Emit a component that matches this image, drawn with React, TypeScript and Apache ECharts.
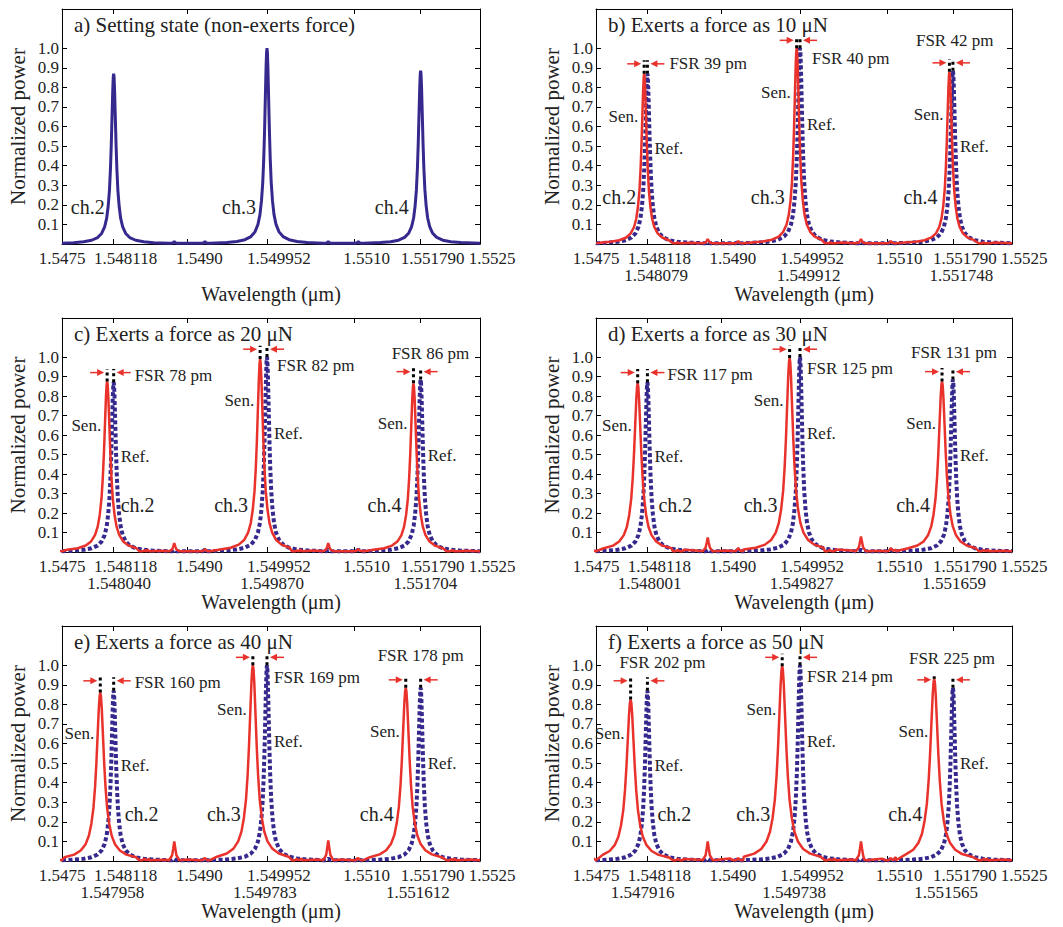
import React, { useEffect, useRef } from "react";
import * as echarts from "echarts";

// ---------------- data ----------------
const X_MIN = 1.5475;
const X_MAX = 1.5525;
const X_TICKS = [1.5475, 1.548118, 1.549, 1.549952, 1.551, 1.55179, 1.5525];
const X_TICK_LABELS = ["1.5475", "1.548118", "1.5490", "1.549952", "1.5510", "1.551790", "1.5525"];
const Y_TICKS = [0.1, 0.2, 0.3, 0.4, 0.5, 0.6, 0.7, 0.8, 0.9, 1.0];

const PANEL_TITLES = [
  "a) Setting state (non-exerts force)",
  "b) Exerts a force as 10 \u03BCN",
  "c) Exerts a force as 20 \u03BCN",
  "d) Exerts a force as 30 \u03BCN",
  "e) Exerts a force as 40 \u03BCN",
  "f) Exerts a force as 50 \u03BCN",
];
const CHANNELS = ["ch.2", "ch.3", "ch.4"];

// reference (unloaded) resonances
const REF_CENTERS = [1.548118, 1.549952, 1.55179];
const REF_HEIGHTS = [0.87, 1.0, 0.885];
const REF_WIDTH_SCALE = 1.2;

// sensing resonances under load (µm)
const SEN_CENTERS_B = [1.548079, 1.549912, 1.551748];
const SEN_CENTERS_C = [1.54804, 1.54987, 1.551704];
const SEN_CENTERS_D = [1.548001, 1.549827, 1.551659];
const SEN_CENTERS_E = [1.547958, 1.549783, 1.551612];
const SEN_CENTERS_F = [1.547916, 1.549738, 1.551565];

const SEN_HEIGHTS_B = [0.87, 1.0, 0.88];
const SEN_HEIGHTS_C = [0.875, 0.99, 0.865];
const SEN_HEIGHTS_D = [0.865, 0.995, 0.875];
const SEN_HEIGHTS_E = [0.86, 1.0, 0.885];
const SEN_HEIGHTS_F = [0.825, 0.995, 0.93];

// FSR shifts (pm)
const FSR_B = [39, 40, 42];
const FSR_C = [78, 82, 86];
const FSR_D = [117, 125, 131];
const FSR_E = [160, 169, 178];
const FSR_F = [202, 214, 225];

// linewidth broadening of the sensing peaks
const SEN_WIDTH_SCALE = [1.35, 1.6, 1.85, 1.95, 2.1];

// small side resonances
const BUMP_CENTERS = [1.548484, 1.548843, 1.54921, 1.55031, 1.550685, 1.551044, 1.55216];
const REF_BUMPS = [0, 0.012, 0.012, 0, 0.012, 0.012, 0];
const SEN_BUMPS_B = [0.006, 0.025, 0.015, 0.006, 0.025, 0.015, 0.006];
const SEN_BUMPS_C = [0.008, 0.045, 0.015, 0.008, 0.045, 0.015, 0.008];
const SEN_BUMPS_D = [0.01, 0.075, 0.02, 0.01, 0.08, 0.02, 0.01];
const SEN_BUMPS_E = [0.012, 0.1, 0.015, 0.01, 0.105, 0.015, 0.01];
const SEN_BUMPS_F = [0.012, 0.1, 0.015, 0.01, 0.1, 0.015, 0.012];

// measured resonance line shape (offset in pm, relative power)
const PEAK_OFFSETS_PM = [-400, -300, -220, -160, -120, -90, -70, -55, -42, -32, -24, -16, -9, -4, 0, 4, 9, 16, 24, 32, 42, 55, 70, 90, 120, 160, 220, 300, 400];
const PEAK_SHAPE = [0.008, 0.013, 0.022, 0.038, 0.062, 0.1, 0.15, 0.22, 0.315, 0.44, 0.58, 0.755, 0.906, 0.98, 1, 0.98, 0.906, 0.755, 0.58, 0.44, 0.315, 0.22, 0.15, 0.1, 0.062, 0.038, 0.022, 0.013, 0.008];
const BUMP_OFFSETS_PM = [-60, -25, -12, 0, 12, 25, 60];
const BUMP_SHAPE = [0, 0.3, 0.65, 1, 0.65, 0.3, 0];
const BASELINE = 0.004;

const SEN_CENTERS = [SEN_CENTERS_B, SEN_CENTERS_C, SEN_CENTERS_D, SEN_CENTERS_E, SEN_CENTERS_F];
const SEN_HEIGHTS = [SEN_HEIGHTS_B, SEN_HEIGHTS_C, SEN_HEIGHTS_D, SEN_HEIGHTS_E, SEN_HEIGHTS_F];
const FSR = [FSR_B, FSR_C, FSR_D, FSR_E, FSR_F];
const SEN_BUMPS = [SEN_BUMPS_B, SEN_BUMPS_C, SEN_BUMPS_D, SEN_BUMPS_E, SEN_BUMPS_F];

// ---------------- layout / style ----------------
const FONT_FAMILY = '"Liberation Serif", "Times New Roman", serif';
const TXT = "#222";
const BLUE = "#35298e";
const RED = "#e8322b";
const GRID_BOXES = [
  { left: 62, top: 9, width: 418, height: 235 },
  { left: 596, top: 9, width: 416, height: 235 },
  { left: 62, top: 318, width: 418, height: 234 },
  { left: 596, top: 318, width: 416, height: 234 },
  { left: 62, top: 626, width: 418, height: 235 },
  { left: 596, top: 626, width: 416, height: 235 },
];
const TICK_LABEL_SHIFT = 12; // labels sit slightly right of their ticks in the original
const TICK_LABEL_ROW1 = 14;
const TICK_LABEL_ROW2 = 31;
const ARROW_LEVELS = [0.92, 1.04, 0.925];
const SEN_LABEL_Y = [0.65, 0.775, 0.66];
const REF_LABEL_Y = [0.49, 0.61, 0.497];
// [dx from ref peak (px) of label left edge, y value]
const FSR_LABEL_LAYOUT = [
  [[22, 0.923], [12, 0.949], [-37, 1.039]],
  [[21, 0.905], [10, 0.956], [-29, 1.016]],
  [[20, 0.91], [7, 0.939], [-42, 1.025]],
  [[21, 0.913], [7, 0.935], [-43, 1.05]],
  [[-28, 1.012], [7, 0.944], [-44, 1.033]],
];
const CH2_DX_FROM_REF = [0, 7, 11, 11, 10];

function font(size: number) {
  return `${size}px ${FONT_FAMILY}`;
}

function buildCurve(centers: number[], heights: number[], widthScale: number, bumps: number[]) {
  const pts: [number, number][] = [[X_MIN, BASELINE], [X_MAX, BASELINE]];
  centers.forEach((c, i) => {
    PEAK_OFFSETS_PM.forEach((o, k) => {
      pts.push([c + o * widthScale * 1e-6, Math.max(BASELINE, heights[i] * PEAK_SHAPE[k])]);
    });
  });
  BUMP_CENTERS.forEach((c, i) => {
    if (bumps[i] <= 0) return;
    BUMP_OFFSETS_PM.forEach((o, k) => {
      pts.push([c + o * 1e-6, Math.max(BASELINE, bumps[i] * BUMP_SHAPE[k])]);
    });
  });
  pts.sort((a, b) => a[0] - b[0]);
  return pts;
}

export default function App() {
  const ref = useRef<HTMLDivElement>(null);

  useEffect(() => {
    if (!ref.current) return;
    const chart = echarts.init(ref.current, undefined, { renderer: "svg" });

    const grids: any[] = [];
    const xAxes: any[] = [];
    const yAxes: any[] = [];
    const series: any[] = [];
    const axisIdx: { x: number; y: number }[] = [];

    const axisLine = { show: true, onZero: false, lineStyle: { color: "#000", width: 1 } };
    const tick = (vals: number[]) => ({
      show: true,
      inside: true,
      length: 5,
      customValues: vals,
      lineStyle: { color: "#000" },
    });

    GRID_BOXES.forEach((g, i) => {
      grids.push({ ...g, containLabel: false, outerBoundsMode: "none" });
      const xi = xAxes.length;
      xAxes.push({
        gridIndex: i,
        type: "value",
        min: X_MIN,
        max: X_MAX,
        position: "bottom",
        axisLine,
        axisTick: tick(X_TICKS),
        axisLabel: { show: false },
        splitLine: { show: false },
        name: "Wavelength (\u03BCm)",
        nameLocation: "middle",
        nameGap: 40,
        nameTextStyle: { fontSize: 20, fontFamily: FONT_FAMILY, color: TXT },
      });
      xAxes.push({
        gridIndex: i,
        type: "value",
        min: X_MIN,
        max: X_MAX,
        position: "top",
        axisLine,
        axisTick: tick(X_TICKS),
        axisLabel: { show: false },
        splitLine: { show: false },
      });
      const yi = yAxes.length;
      yAxes.push({
        gridIndex: i,
        type: "value",
        min: 0,
        max: 1.2,
        position: "left",
        axisLine,
        axisTick: tick(Y_TICKS),
        axisLabel: {
          show: true,
          customValues: Y_TICKS,
          formatter: (v: number) => v.toFixed(1),
          fontSize: 17,
          fontFamily: FONT_FAMILY,
          color: TXT,
          margin: 3,
        },
        splitLine: { show: false },
        name: "Normalized power",
        nameLocation: "middle",
        nameGap: 34,
        nameRotate: 90,
        nameTextStyle: { fontSize: 21, fontFamily: FONT_FAMILY, color: TXT },
      });
      yAxes.push({
        gridIndex: i,
        type: "value",
        min: 0,
        max: 1.2,
        position: "right",
        axisLine,
        axisTick: tick(Y_TICKS),
        axisLabel: { show: false },
        splitLine: { show: false },
      });
      axisIdx.push({ x: xi, y: yi });

      if (i === 0) {
        series.push({
          type: "line",
          xAxisIndex: xi,
          yAxisIndex: yi,
          data: buildCurve(REF_CENTERS, REF_HEIGHTS, REF_WIDTH_SCALE, REF_BUMPS),
          showSymbol: false,
          symbol: "none",
          lineStyle: { color: BLUE, width: 3 },
          silent: true,
        });
      } else {
        const p = i - 1;
        series.push({
          type: "line",
          name: "Ref.",
          xAxisIndex: xi,
          yAxisIndex: yi,
          data: buildCurve(REF_CENTERS, REF_HEIGHTS, REF_WIDTH_SCALE, REF_BUMPS),
          showSymbol: false,
          symbol: "none",
          lineStyle: { color: BLUE, width: 4, type: [4, 2.5], cap: "butt" },
          silent: true,
        });
        series.push({
          type: "line",
          name: "Sen.",
          xAxisIndex: xi,
          yAxisIndex: yi,
          data: buildCurve(SEN_CENTERS[p], SEN_HEIGHTS[p], SEN_WIDTH_SCALE[p], SEN_BUMPS[p]),
          showSymbol: false,
          symbol: "none",
          lineStyle: { color: RED, width: 2.5 },
          silent: true,
        });
      }
    });

    chart.setOption({
      animation: false,
      backgroundColor: "#fff",
      grid: grids,
      xAxis: xAxes,
      yAxis: yAxes,
      series,
    });

    // ---- labels and annotations (positioned through the chart's own scales) ----
    const graphic: any[] = [];
    const toPx = (i: number, x: number, y: number) =>
      chart.convertToPixel({ xAxisIndex: axisIdx[i].x, yAxisIndex: axisIdx[i].y }, [x, y]) as number[];
    const text = (t: string, x: number, y: number, size: number, align: string) => ({
      type: "text",
      silent: true,
      z: 100,
      style: {
        text: t,
        x,
        y,
        font: font(size),
        fill: TXT,
        align,
        textAlign: align,
        verticalAlign: "middle",
        textVerticalAlign: "middle",
      },
    });

    GRID_BOXES.forEach((g, i) => {
      graphic.push(text(PANEL_TITLES[i], g.left + 12, g.top + 16, 21, "left"));
      // wavelength tick labels
      X_TICKS.forEach((v, k) => {
        const [px, py] = toPx(i, v, 0);
        const dx = v === X_MIN ? 0 : TICK_LABEL_SHIFT;
        graphic.push(text(X_TICK_LABELS[k], px + dx, py + TICK_LABEL_ROW1, 17, "center"));
      });
      if (i > 0) {
        SEN_CENTERS[i - 1].forEach((v) => {
          const [px, py] = toPx(i, v, 0);
          graphic.push(text(v.toFixed(6), px + TICK_LABEL_SHIFT, py + TICK_LABEL_ROW2, 17, "center"));
        });
      }
    });

    // panel a channel labels
    const A_CH_DX = [-9, -11, -12];
    REF_CENTERS.forEach((c, k) => {
      const [px, py] = toPx(0, c, 0.19);
      graphic.push(text(CHANNELS[k], px + A_CH_DX[k], py, 20, "right"));
    });

    for (let p = 0; p < 5; p++) {
      const i = p + 1;
      for (let k = 0; k < 3; k++) {
        const [sx] = toPx(i, SEN_CENTERS[p][k], 0);
        const [rx] = toPx(i, REF_CENTERS[k], 0);
        const ay = toPx(i, 0, ARROW_LEVELS[k])[1];
        const dotTop = toPx(i, 0, ARROW_LEVELS[k] + 0.018)[1];
        const sTop = toPx(i, 0, SEN_HEIGHTS[p][k])[1];
        const rTop = toPx(i, 0, REF_HEIGHTS[k])[1];
        [
          [sx, sTop],
          [rx, rTop],
        ].forEach(([x, y0]) => {
          graphic.push({
            type: "line",
            silent: true,
            z: 90,
            shape: { x1: x, y1: y0, x2: x, y2: dotTop },
            style: { stroke: "#000", lineWidth: 3, lineDash: [3, 3] },
          });
        });
        const arrow = (tail: number, head: number) => {
          const dir = Math.sign(head - tail);
          graphic.push({
            type: "line",
            silent: true,
            z: 95,
            shape: { x1: tail, y1: ay, x2: head - dir * 4, y2: ay },
            style: { stroke: RED, lineWidth: 1.5 },
          });
          graphic.push({
            type: "polygon",
            silent: true,
            z: 95,
            shape: {
              points: [
                [head, ay],
                [head - dir * 7, ay - 3.5],
                [head - dir * 7, ay + 3.5],
              ],
            },
            style: { fill: RED },
          });
        };
        arrow(sx - 17, sx - 3);
        arrow(rx + 17, rx + 3);

        const [fdx, fy] = FSR_LABEL_LAYOUT[p][k];
        const fyPx = toPx(i, 0, fy)[1];
        graphic.push(text(`FSR ${FSR[p][k]} pm`, rx + fdx, fyPx, 17, "left"));

        graphic.push(text("Sen.", sx - 6, toPx(i, 0, SEN_LABEL_Y[k])[1], 17, "right"));
        graphic.push(text("Ref.", rx + 7, toPx(i, 0, REF_LABEL_Y[k])[1], 17, "left"));

        const cy = toPx(i, 0, 0.24)[1];
        if (k === 0) {
          if (p === 0) graphic.push(text(CHANNELS[k], sx - 8, cy, 20, "right"));
          else graphic.push(text(CHANNELS[k], rx + CH2_DX_FROM_REF[p], cy, 20, "left"));
        } else {
          graphic.push(text(CHANNELS[k], sx - 12, cy, 20, "right"));
        }
      }
    }

    chart.setOption({ graphic });

    return () => chart.dispose();
  }, []);

  return (
    <div
      ref={ref}
      style={{ position: "absolute", left: 0, top: 0, width: 1063, height: 927, background: "#fff" }}
    />
  );
}
